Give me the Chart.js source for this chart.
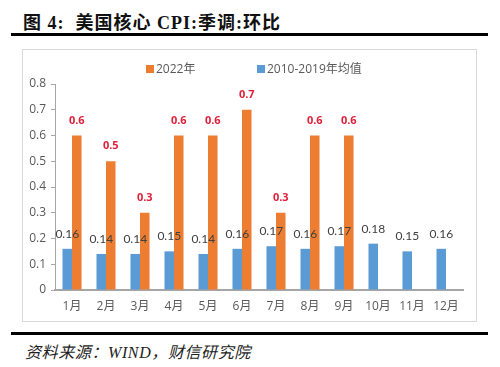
<!DOCTYPE html>
<html>
<head>
<meta charset="UTF-8">
<script src="https://cdn.jsdelivr.net/npm/chart.js"></script>
<style>
  body { margin: 0; width: 500px; height: 367px; background: #fff; position: relative; overflow: hidden; font-family: "Liberation Serif", "Noto Sans CJK SC", serif; }
  #title { position: absolute; left: 23px; top: 8px; font-size: 18px; font-weight: bold; color: #111; white-space: nowrap; letter-spacing: 1px; }
  .rule { position: absolute; left: 11px; width: 477px; height: 3px; background: #000; }
  #box { position: absolute; left: 22px; top: 49px; width: 455px; height: 273px; border: 1px solid #d9d9d9; box-sizing: border-box; }
  #box canvas { position: absolute; left: 0; top: 0; }
  #source { position: absolute; left: 25px; top: 339px; font-size: 16px; font-style: italic; color: #222; white-space: nowrap; letter-spacing: 0.6px; }
  .leg { position: absolute; top: 61px; font: 12px "Open Sans", "Noto Sans CJK SC", sans-serif; color: #595959; white-space: nowrap; line-height: 16px; }
  .leg i { display: inline-block; width: 8px; height: 8px; margin-right: 2px; vertical-align: 0px; }
</style>
</head>
<body>
<div id="title">图 4:&nbsp; 美国核心 CPI:季调:环比</div>
<div class="rule" style="top:33px"></div>
<div id="box"><canvas id="c" width="453" height="271"></canvas></div>
<div class="leg" id="leg0" style="left:146px"></div>
<div class="leg" id="leg1" style="left:257px"></div>
<div class="rule" style="top:332px"></div>
<div id="source">资料来源：WIND，财信研究院</div>
<script>
const months = ['1月','2月','3月','4月','5月','6月','7月','8月','9月','10月','11月','12月'];
const avg2010_2019 = [0.16, 0.14, 0.14, 0.15, 0.14, 0.16, 0.17, 0.16, 0.17, 0.18, 0.15, 0.16];
const y2022 = [0.6, 0.5, 0.3, 0.6, 0.6, 0.7, 0.3, 0.6, 0.6, null, null, null];
const yTicks = [0, 0.1, 0.2, 0.3, 0.4, 0.5, 0.6, 0.7, 0.8];
const seriesNames = ['2010-2019年均值', '2022年'];
const seriesColors = ['#5b9bd5', '#ed7d31'];

// legend, orange entry first like the original
document.getElementById('leg0').innerHTML = '<i style="background:' + seriesColors[1] + '"></i>' + seriesNames[1];
document.getElementById('leg1').innerHTML = '<i style="background:' + seriesColors[0] + '"></i>' + seriesNames[0];

// value labels above the bars
const barLabels = {
  id: 'barLabels',
  afterDatasetsDraw(chart) {
    const ctx = chart.ctx;
    chart.data.datasets.forEach((ds, i) => {
      const meta = chart.getDatasetMeta(i);
      meta.data.forEach((bar, j) => {
        const v = ds.data[j];
        if (v == null) return;
        ctx.save();
        ctx.textAlign = 'center';
        ctx.textBaseline = 'middle';
        if (i === 1) {
          ctx.font = 'bold 11px "Open Sans", sans-serif';
          ctx.fillStyle = '#e0203a';
        } else {
          ctx.font = '12px Lato, sans-serif';
          ctx.fillStyle = '#404040';
        }
        ctx.fillText(String(v), bar.x, bar.y - 15);
        ctx.restore();
      });
    });
  }
};

new Chart(document.getElementById('c'), {
  type: 'bar',
  data: {
    labels: months,
    datasets: [
      { label: seriesNames[0], data: avg2010_2019, backgroundColor: seriesColors[0], categoryPercentage: 0.56, barPercentage: 1 },
      { label: seriesNames[1], data: y2022, backgroundColor: seriesColors[1], categoryPercentage: 0.56, barPercentage: 1 }
    ]
  },
  options: {
    responsive: false,
    animation: false,
    layout: { padding: { left: 0, right: 13, top: 34, bottom: 0 } },
    plugins: {
      legend: { display: false },
      tooltip: { enabled: false }
    },
    scales: {
      x: {
        grid: { drawOnChartArea: false, drawTicks: true, tickLength: 0, color: '#a6a6a6' },
        border: { color: '#a6a6a6', width: 2 },
        ticks: { color: '#595959', padding: 9, font: { size: 12, family: '"Open Sans", "Noto Sans CJK SC", sans-serif' } },
        afterFit(s) { s.height = 31; }
      },
      y: {
        min: 0, max: 0.8,
        afterBuildTicks(s) { s.ticks = yTicks.map(v => ({ value: v })); },
        grid: { drawOnChartArea: false, drawTicks: true, tickLength: 4, color: '#a6a6a6' },
        border: { color: '#a6a6a6', width: 1 },
        ticks: { color: '#595959', padding: 5, font: { size: 12, family: '"Open Sans", sans-serif' }, callback: v => String(v) },
        afterFit(s) { s.width = 32; }
      }
    }
  },
  plugins: [barLabels]
});
</script>
</body>
</html>
